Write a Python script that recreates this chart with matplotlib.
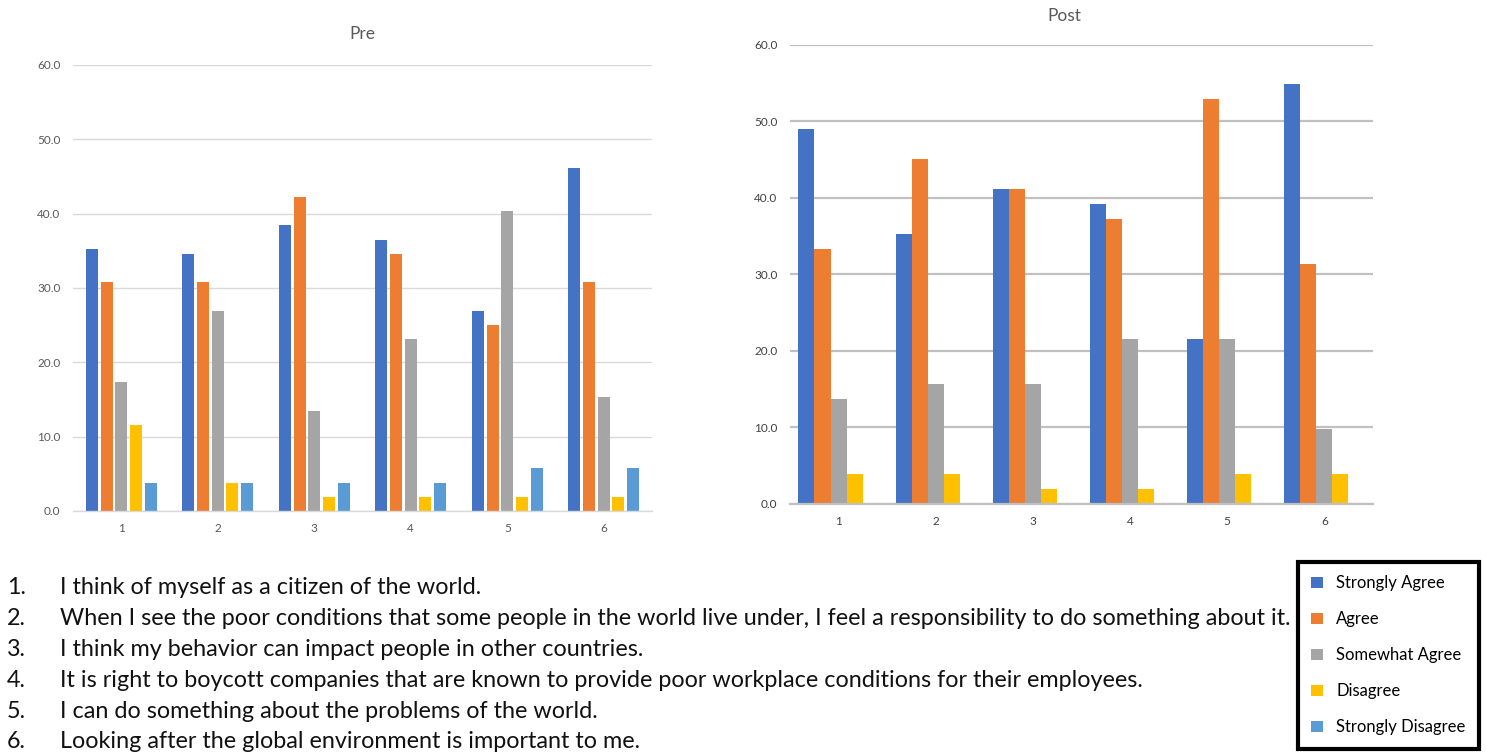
import numpy as np
import matplotlib.pyplot as plt

# data (percent of respondents)
groups = ["1", "2", "3", "4", "5", "6"]
series = ["Strongly Agree", "Agree", "Somewhat Agree", "Disagree", "Strongly Disagree"]
colors = ["#4472C4", "#ED7D31", "#A5A5A5", "#FFC000", "#5B9BD5"]

pre_sa = [35.3, 34.6, 38.5, 36.5, 26.9, 46.2]
pre_a = [30.8, 30.8, 42.3, 34.6, 25.0, 30.8]
pre_swa = [17.3, 26.9, 13.5, 23.1, 40.4, 15.4]
pre_d = [11.5, 3.8, 1.9, 1.9, 1.9, 1.9]
pre_sd = [3.8, 3.8, 3.8, 3.8, 5.8, 5.8]

post_sa = [49.0, 35.3, 41.2, 39.2, 21.6, 54.9]
post_a = [33.3, 45.1, 41.2, 37.3, 52.9, 31.4]
post_swa = [13.7, 15.7, 15.7, 21.6, 21.6, 9.8]
post_d = [3.9, 3.9, 2.0, 2.0, 3.9, 3.9]
post_sd = [0, 0, 0, 0, 0, 0]

statements = [
    "I think of myself as a citizen of the world.",
    "When I see the poor conditions that some people in the world live under, I feel a responsibility to do something about it.",
    "I think my behavior can impact people in other countries.",
    "It is right to boycott companies that are known to provide poor workplace conditions for their employees.",
    "I can do something about the problems of the world.",
    "Looking after the global environment is important to me.",
]

plt.rcParams['font.family'] = ['Lato', 'DejaVu Sans']
fig = plt.figure(figsize=(14.86, 7.52), dpi=100)

def draw(ax, data, title, step, width, grid_color, grid_lw, tick_color, pad):
    x = np.arange(len(groups))
    n = len(data)
    for i, vals in enumerate(data):
        ax.bar(x + (i - (n - 1) / 2) * step, vals, width, color=colors[i], label=series[i])
    ax.set_xlim(-0.5, len(groups) - 0.5)
    ax.set_ylim(0, 60)
    ax.set_yticks(np.arange(0, 61, 10))
    ax.set_yticklabels(["%.1f" % v for v in np.arange(0, 61, 10)])
    ax.set_xticks(x)
    ax.set_xticklabels(groups)
    ax.grid(axis='y', color=grid_color, lw=grid_lw)
    ax.set_axisbelow(True)
    for s in ["top", "right", "left"]:
        ax.spines[s].set_visible(False)
    ax.spines["bottom"].set_color(grid_color)
    ax.spines["bottom"].set_linewidth(grid_lw)
    ax.tick_params(length=0, labelsize=8.5, colors=tick_color, pad=9)
    ax.set_title(title, fontsize=12.5, color="#595959", pad=pad)

ax1 = fig.add_axes([0.0491, 0.3205, 0.3897, 0.5931])
draw(ax1, [pre_sa, pre_a, pre_swa, pre_d, pre_sd], "Pre", 0.152, 0.124, "#d9d9d9", 1.0, "#595959", 18.5)

ax2 = fig.add_axes([0.5316, 0.3298, 0.3923, 0.6104])
draw(ax2, [post_sa, post_a, post_swa, post_d, post_sd], "Post", 0.165, 0.165, "#c0c0c0", 1.6, "#404040", 17)
ax2.title.set_position((0.47, 1.0))

# numbered statements
for i, s in enumerate(statements):
    y = 1 - (588 + i * 30.8) / 752
    fig.text(7 / 1486, y, "%d." % (i + 1), fontsize=16.8, va='center', color="#111111")
    fig.text(60 / 1486, y, s, fontsize=16.8, va='center', color="#111111")

handles, labels = ax1.get_legend_handles_labels()
leg = fig.legend(handles, labels, loc='upper left', bbox_to_anchor=(1298 / 1486, 1 - 562 / 752),
                 fontsize=12, handlelength=0.7, handleheight=0.7, labelspacing=1.2,
                 handletextpad=0.8, borderpad=0.8, borderaxespad=0, fancybox=False, framealpha=1)
leg.get_frame().set_edgecolor("black")
leg.get_frame().set_linewidth(3)

fig.savefig("out.png", dpi=100)
